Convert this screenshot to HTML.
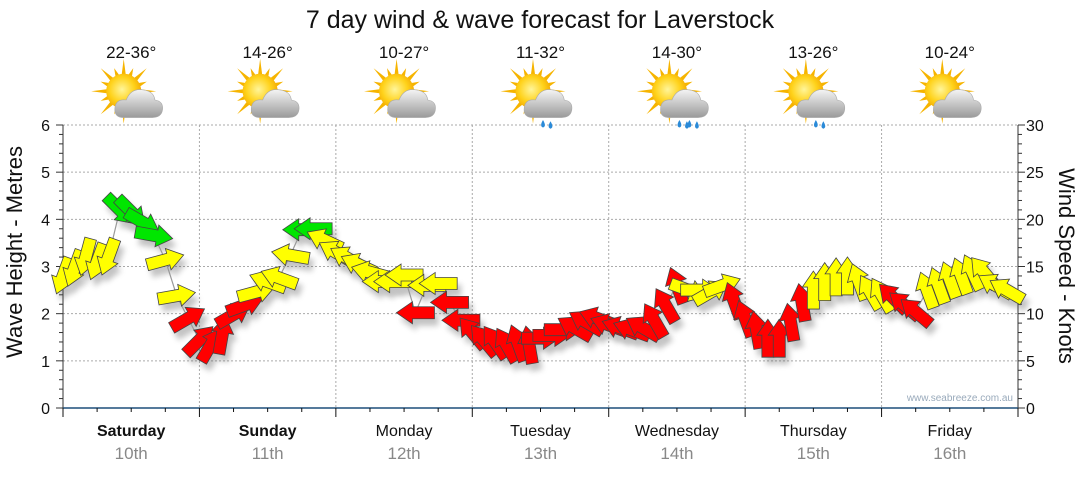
<!DOCTYPE html>
<html><head><meta charset="utf-8">
<style>
body{margin:0;background:#fff;font-family:"Liberation Sans",sans-serif;}
svg text{font-family:"Liberation Sans",sans-serif;}
</style></head>
<body>
<svg id="c" width="1080" height="475" viewBox="0 0 1080 475" xmlns="http://www.w3.org/2000/svg">
<defs>
<filter id="sh" x="-50%" y="-50%" width="200%" height="200%"><feGaussianBlur stdDeviation="3"/></filter>
<radialGradient id="sun" cx="0.45" cy="0.45" r="0.6"><stop offset="0" stop-color="#fff59a"/><stop offset="0.6" stop-color="#ffd21a"/><stop offset="1" stop-color="#f2a600"/></radialGradient>
<linearGradient id="cl" x1="0" y1="0" x2="0" y2="1"><stop offset="0" stop-color="#f4f4f4"/><stop offset="1" stop-color="#9a9a9a"/></linearGradient>
</defs>
<text x="540" y="28" text-anchor="middle" font-size="25" fill="#111">7 day wind &amp; wave forecast for Laverstock</text>
<g id="grid"></g>
<g id="axes"></g>
<g id="icons"></g>
<g id="shadows" opacity="0.35"></g>
<path id="wline" fill="none" stroke="#999" stroke-width="1.2"/>
<g id="arrows"></g>
<text x="1013" y="401" text-anchor="end" font-size="10" fill="#9ab">www.seabreeze.com.au</text>
<text transform="translate(22,252) rotate(-90)" text-anchor="middle" font-size="22" fill="#111">Wave Height - Metres</text>
<text transform="translate(1059,266) rotate(90)" text-anchor="middle" font-size="22" fill="#111">Wind Speed - Knots</text>
</svg>
<script>
const days=["Saturday","Sunday","Monday","Tuesday","Wednesday","Thursday","Friday"];
const dates=["10th","11th","12th","13th","14th","15th","16th"];
const temps=["22-36°","14-26°","10-27°","11-32°","14-30°","13-26°","10-24°"];
const rainy=[0,0,0,1,2,1,0];
const waveTicks=[0,1,2,3,4,5,6];
const windTicks=[0,5,10,15,20,25,30];
const hours=[];for(let h=0;h<168;h+=2)hours.push(h);
const windSpeed=[14,14.8,16,15.5,16,21,20.8,19.7,18.3,15.7,11.9,9.5,
7.2,6.7,7.7,9.9,10.9,12.3,13.4,13.8,16.2,18.9,19,17.8,
16.5,15.9,15.2,14.4,13.4,13.4,14.1,10.1,13,13.2,11.2,9.3,
8,7.2,7,6.7,6.9,6.7,7.4,7.7,8.3,8.5,9.1,9.5,
8.8,8.5,8.3,8.5,9.3,10.9,13,12.5,12.5,12.3,13,11.4,
9.5,8.3,7.4,7.4,9.1,11.2,12.5,13.4,13.9,14,13.4,12.3,
12,11.7,10.9,10.2,12.5,13,13.6,14,14.4,14.4,13,12.5];
const windDir=[110,110,105,110,110,45,45,30,10,-15,-10,-30,
-45,-60,-80,-30,-20,-15,-160,-160,-170,180,180,-155,
-150,-150,-155,-165,180,180,180,180,180,180,180,180,
-130,-130,-125,-120,-110,-100,0,0,0,-150,-150,-160,
-160,-160,-160,-150,-120,-120,-110,20,0,-30,-20,-110,
-110,-100,-90,-90,-100,-100,-90,-90,-90,-90,-110,-120,
-120,-135,-140,-140,-110,-110,-110,-110,-115,-130,-150,-150];
const windCol=["y","y","y","y","y","g","g","g","g","y","y","r",
"r","r","r","r","r","y","y","y","y","g","g","y",
"y","y","y","y","y","y","y","r","y","y","r","r",
"r","r","r","r","r","r","r","r","r","r","r","r",
"r","r","r","r","r","r","r","y","y","y","y","r",
"r","r","r","r","r","r","y","y","y","y","y","y",
"y","r","r","r","y","y","y","y","y","y","y","y"];
const L=63,R=1018,T=125,B=408;
const xS=h=>L+h/168*(R-L);
const yW=v=>B-v/6*(B-T);
const yK=v=>B-v/30*(B-T);
const NS="http://www.w3.org/2000/svg";
function mk(tag,parent,attrs){const e=document.createElementNS(NS,tag);for(const k in attrs)e.setAttribute(k,attrs[k]);parent.appendChild(e);return e;}
const grid=document.getElementById('grid'),axes=document.getElementById('axes');
waveTicks.forEach(v=>{if(v>0){const l=mk('line',grid,{x1:L,x2:R,y1:yW(v),y2:yW(v),stroke:'#aaa','stroke-dasharray':'2,2'});}
const t=mk('text',axes,{x:50,y:yW(v)+6,'text-anchor':'end','font-size':16,fill:'#111'});t.textContent=v;
});
windTicks.forEach(v=>{const t=mk('text',axes,{x:1026,y:yK(v)+6,'font-size':16,fill:'#111'});t.textContent=v;
});
for(let i=0;i<=30;i++){mk('line',axes,{x1:L-(i%5?4:7),x2:L,y1:yK(i),y2:yK(i),stroke:'#333'});mk('line',axes,{x1:R,x2:R+(i%5?4:7),y1:yK(i),y2:yK(i),stroke:'#333'});}
mk('line',axes,{x1:L,x2:L,y1:T,y2:B,stroke:'#333'});mk('line',axes,{x1:R,x2:R,y1:T,y2:B,stroke:'#333'});
for(let d=1;d<7;d++){const l=mk('line',grid,{x1:xS(d*24),x2:xS(d*24),y1:T,y2:B,stroke:'#aaa','stroke-dasharray':'2,2'});}
const xa=mk('line',axes,{x1:L,x2:R,y1:B,y2:B,stroke:'#1d4f7a','stroke-width':1.5});

for(let h=0;h<=168;h+=6){mk('line',axes,{x1:xS(h),x2:xS(h),y1:B,y2:B+(h%24?4:9),stroke:'#111'});}
const icons=document.getElementById('icons');
days.forEach((d,i)=>{const cx=xS(i*24+12);
const t=mk('text',axes,{x:cx,y:436,'text-anchor':'middle','font-size':16,fill:'#111','font-weight':i<2?'bold':'normal'});t.textContent=d;

const t2=mk('text',axes,{x:cx,y:459,'text-anchor':'middle','font-size':17,fill:'#888'});t2.textContent=dates[i];

const t3=mk('text',icons,{x:cx,y:58,'text-anchor':'middle','font-size':17,fill:'#111'});t3.textContent=temps[i];

const g=mk('g',icons,{transform:`translate(${cx},95) scale(1.25)`});

const sx=-6,sy=-3;
for(let a=0;a<16;a++){const an=a*Math.PI/8,r1=13,r2=a%2?20:26;
const p1=[sx+Math.cos(an-0.13)*r1,sy+Math.sin(an-0.13)*r1],p2=[sx+Math.cos(an)*r2,sy+Math.sin(an)*r2],p3=[sx+Math.cos(an+0.13)*r1,sy+Math.sin(an+0.13)*r1];
mk('polygon',g,{points:[p1,p2,p3].map(p=>p.join(',')).join(' '),fill:'#f6b400'});}
mk('circle',g,{cx:sx,cy:sy,r:14,fill:'url(#sun)'});
mk('path',g,{d:'M-6,18 Q-14,18 -13,10 Q-12,3 -4,4 Q0,-6 10,-4 Q18,-3 19,4 Q26,5 25,12 Q24,18 17,18 Z',fill:'url(#cl)',stroke:'#aaa','stroke-width':0.5});
for(let k=0;k<rainy[i];k++){mk('path',g,{d:`M${2+k*8},20 q-3,5 0,6 q3,-1 0,-6z`,fill:'#2a8ad8'});mk('path',g,{d:`M${8+k*8},21 q-3,5 0,6 q3,-1 0,-6z`,fill:'#2a8ad8'});}
});
let d='';hours.forEach((h,i)=>{d+=(i?'L':'M')+xS(h).toFixed(1)+','+yK(windSpeed[i]).toFixed(1);});
document.getElementById('wline').setAttribute('d',d);
const cols={r:'#ff0000',y:'#ffff00',g:'#00e600'};
const arr='-19,-6 3,-6 3,-11 19,0 3,11 3,6 -19,6';
const sh=document.getElementById('shadows'),ag=document.getElementById('arrows');
hours.forEach((h,i)=>{const x=xS(h),y=yK(windSpeed[i]),a=windDir[i];
mk('polygon',sh,{points:arr,fill:'#555',filter:'url(#sh)',transform:`translate(${x+4},${y+7}) rotate(${a})`});
const p=mk('polygon',ag,{points:arr,fill:cols[windCol[i]],stroke:'#444','stroke-width':0.8,transform:`translate(${x},${y}) rotate(${a})`});


});
</script>
</body></html>
